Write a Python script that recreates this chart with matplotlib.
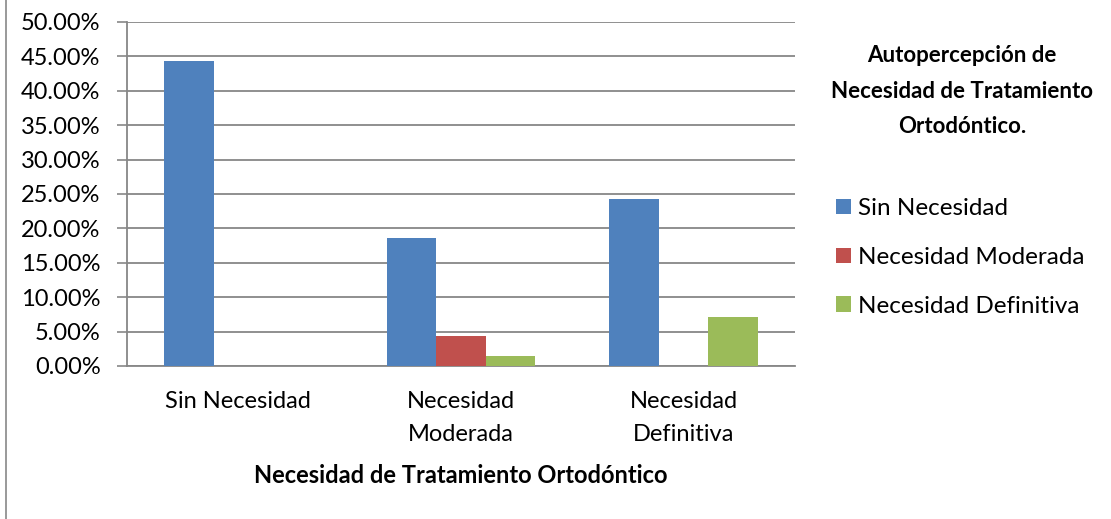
import matplotlib
matplotlib.use("Agg")
import matplotlib.pyplot as plt
import numpy as np
from matplotlib.patches import Patch
from matplotlib.lines import Line2D

categories = ["Sin Necesidad", "Necesidad\nModerada", "Necesidad\nDefinitiva"]
series_names = ["Sin Necesidad", "Necesidad Moderada", "Necesidad Definitiva"]
sin_necesidad = [44.29, 18.57, 24.29]
necesidad_moderada = [0.0, 4.29, 0.0]
necesidad_definitiva = [0.0, 1.43, 7.14]
yticks = [0, 5, 10, 15, 20, 25, 30, 35, 40, 45, 50]
colors = ["#4F81BD", "#C0504D", "#9BBB59"]

plt.rcParams['font.family'] = ['Lato', 'DejaVu Sans']

fig = plt.figure(figsize=(11.11, 5.19), dpi=100)
ax = fig.add_axes([127/1111, 1-366/519, (795-127)/1111, (366-22)/519])

x = np.arange(len(categories))
w = 1/4.5
for i, (vals, col, name) in enumerate(zip([sin_necesidad, necesidad_moderada, necesidad_definitiva], colors, series_names)):
    ax.bar(x + (i-1)*w, vals, width=w, color=col, label=name, zorder=3)

ax.set_xlim(-0.5, 2.5)
ax.set_ylim(0, 50)
ax.set_yticks(yticks)
ax.set_yticklabels([f"{v:.2f}%" for v in yticks], fontsize=17)
ax.set_xticks(x)
ax.set_xticklabels(categories, fontsize=17, linespacing=1.7)
ax.tick_params(axis='x', length=0, pad=18)
ax.tick_params(axis='y', length=7, width=1.2, color='#878787', pad=12)
ax.grid(axis='y', color='#878787', linewidth=1.3, zorder=0)
for s in ['top', 'right']:
    ax.spines[s].set_visible(False)
ax.spines['left'].set_color('#878787')
ax.spines['left'].set_linewidth(1.3)
ax.spines['bottom'].set_color('#878787')
ax.spines['bottom'].set_linewidth(1.3)
ax.set_xlabel("Necesidad de Tratamiento Ortodóntico", fontsize=17, fontweight='bold', labelpad=14)

# outer frame line on left
fig.add_artist(Line2D([6/1111, 6/1111], [0, 1], transform=fig.transFigure, color='#878787', linewidth=1.2))

fig.text(962/1111, 1-91/519, "Autopercepción de\nNecesidad de Tratamiento\nOrtodóntico.", ha='center', va='center',
         fontsize=16, fontweight='bold', linespacing=1.85)

handles = [Patch(facecolor=c, label=n) for c, n in zip(colors, series_names)]
fig.legend(handles=handles, loc='upper left', bbox_to_anchor=(836/1111, 1-198/519), frameon=False,
           fontsize=17.5, handlelength=0.62, handleheight=0.62, handletextpad=0.3, labelspacing=1.15,
           borderaxespad=0, borderpad=0)

fig.savefig("out.png", dpi=100)
